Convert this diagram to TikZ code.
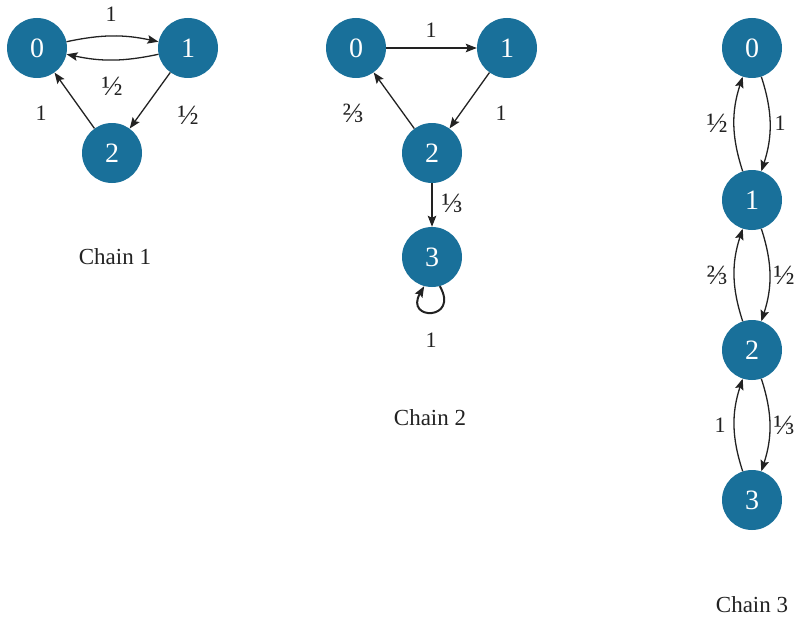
\documentclass[tikz,border=0pt]{standalone}
\usepackage{fontspec}
\setmainfont{Liberation Serif}
\usetikzlibrary{arrows.meta}
\definecolor{nodeblue}{HTML}{19709A}
\definecolor{ink}{HTML}{222222}
\tikzset{
  st/.style={circle, fill=nodeblue, draw=none, minimum size=60pt, inner sep=0pt, text=white, font=\fontsize{28}{28}\selectfont},
  edge/.style={draw=ink, line width=1.3pt, -{Stealth[length=11pt,width=8.5pt,inset=2pt]}},
  lbl/.style={text=ink, font=\fontsize{22}{22}\selectfont, inner sep=0pt},
  frac/.style={text=ink, font=\fontsize{28}{28}\selectfont, inner sep=0pt},
  chaincap/.style={text=ink, font=\fontsize{23}{23}\selectfont, inner sep=0pt}
}
\begin{document}
\begin{tikzpicture}[x=1pt,y=-1pt]
\useasboundingbox (0,0) rectangle (795,618);
% Chain 1
\node[st] (a0) at (37,48) {0};
\node[st] (a1) at (188,48) {1};
\node[st] (a2) at (112,153) {2};
\draw[edge] (a0) to[bend left=12] (a1);
\draw[edge] (a1) to[bend left=12] (a0);
\draw[edge] (a1) -- (a2);
\draw[edge] (a2) -- (a0);
\node[lbl] (la01) at (111,14) {1};
\node[frac] (la10) at (112,86) {½};
\node[lbl] (la20) at (41,113) {1};
\node[frac] (la12) at (188,115) {½};
\node[chaincap] (c1) at (115,257) {Chain 1};
% Chain 2
\node[st] (b0) at (356,48) {0};
\node[st] (b1) at (507,48) {1};
\node[st] (b2) at (432,153) {2};
\node[st] (b3) at (432,257) {3};
\draw[edge] (b0) -- (b1);
\draw[edge] (b1) -- (b2);
\draw[edge] (b2) -- (b0);
\draw[edge] (b2) -- (b3);
\draw[edge, line width=2pt] (b3.-75) .. controls +(60:40) and +(120:40) .. (b3.-105);
\node[lbl] (lb01) at (431,30) {1};
\node[frac] (lb20) at (353,113) {⅔};
\node[lbl] (lb12) at (501,113) {1};
\node[frac] (lb23) at (452,203) {⅓};
\node[lbl] (lb33) at (431,340) {1};
\node[chaincap] (c2) at (430,418) {Chain 2};
% Chain 3
\node[st] (d0) at (752,48) {0};
\node[st] (d1) at (752,200) {1};
\node[st] (d2) at (752,350) {2};
\node[st] (d3) at (752,500) {3};
\draw[edge] (d1) to[bend left=18] (d0);
\draw[edge] (d0) to[bend left=18] (d1);
\draw[edge] (d2) to[bend left=18] (d1);
\draw[edge] (d1) to[bend left=18] (d2);
\draw[edge] (d3) to[bend left=18] (d2);
\draw[edge] (d2) to[bend left=18] (d3);
\node[frac] (ld10) at (717,123) {½};
\node[lbl] (ld01) at (780,123) {1};
\node[frac] (ld21) at (717,275) {⅔};
\node[frac] (ld12) at (784,275) {½};
\node[lbl] (ld32) at (720,425) {1};
\node[frac] (ld23) at (784,425) {⅓};
\node[chaincap] (c3) at (752,605) {Chain 3};
\end{tikzpicture}
\end{document}
